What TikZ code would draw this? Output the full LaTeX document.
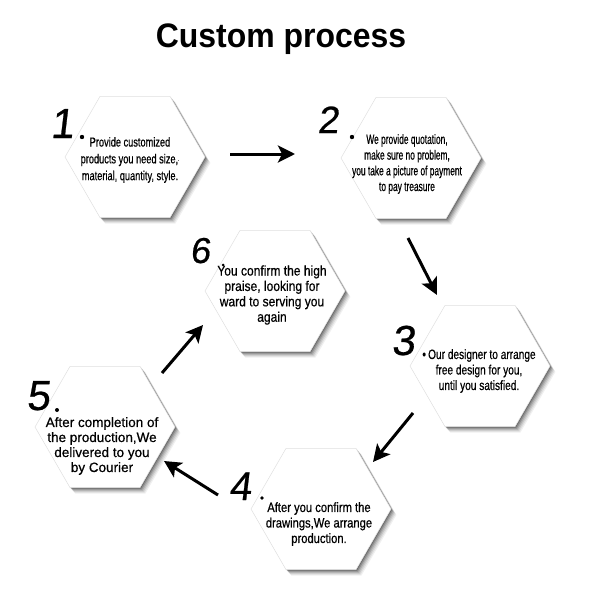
\documentclass[tikz,border=0pt]{standalone}
\usepackage{fontspec}
\setmainfont{Liberation Sans}
\newfontfamily\titlefont[FakeStretch=0.94]{Liberation Sans}
\newfontfamily\handfont[FakeSlant=0.12,FakeBold=0.6]{Liberation Sans}
\newfontfamily\condA[FakeStretch=0.71,FakeBold=0.5]{Liberation Sans}
\newfontfamily\condB[FakeStretch=0.62,FakeBold=0.5]{Liberation Sans}
\newfontfamily\condC[FakeStretch=0.75,FakeBold=0.5]{Liberation Sans}
\newfontfamily\condD[FakeStretch=0.86,FakeBold=0.6]{Liberation Sans}
\newfontfamily\condE[FakeStretch=0.83,FakeBold=0.6]{Liberation Sans}
\newfontfamily\condF[FakeBold=0.6]{Liberation Sans}
\usetikzlibrary{shapes.geometric,arrows.meta}
\tikzset{
  hexshape/.style={regular polygon, regular polygon sides=6,
    minimum size=140pt, inner sep=0pt, draw=none},
  hexbox/.style={hexshape, fill=white, draw=black!12, line width=0.5pt},
  hexnum/.style={anchor=base, inner sep=0pt, font=\handfont},
  numdot/.style={fill=black, draw=none},
  hextext/.style={align=center, inner sep=0pt, text=black},
  flow/.style={line width=3pt, -{Stealth[length=17pt,width=17pt,inset=4pt]}},
}
\newcommand\hexat[3]{%
  \foreach \k/\o in {6/0.06,5/0.08,4/0.1,3/0.13,2/0.17,1/0.22}{%
    \node[hexshape, fill=black, fill opacity=\o] at (#2+\k*0.9, #3+\k) {};}
  \node[hexbox] (#1) at (#2,#3) {};}
\begin{document}
\begin{tikzpicture}[x=1pt,y=-1pt]
\useasboundingbox[fill=white] (0,0) rectangle (598,599);

\node[anchor=base, inner sep=0pt, font=\titlefont\bfseries\fontsize{34}{40}\selectfont] (title) at (281,48) {Custom process};

\hexat{h1}{135}{157}
\hexat{h2}{411}{158}
\hexat{h6}{275}{291}
\hexat{h3}{480}{366}
\hexat{h5}{105}{427}
\hexat{h4}{321}{509}

% numbers
\node[hexnum, font=\handfont\fontsize{42}{42}\selectfont] (n1) at (62,138) {1};
\fill[numdot] (82,137) circle (2.2);
\node[hexnum, font=\handfont\fontsize{38}{38}\selectfont] (n2) at (328,133) {2};
\fill[numdot] (352,137) circle (2.2);
\node[hexnum, font=\handfont\fontsize{36}{36}\selectfont] (n6) at (200,263) {6};
\fill[numdot] (223,265) circle (1.5);
\node[hexnum, font=\handfont\fontsize{42}{42}\selectfont] (n3) at (403,355) {3};
\node[hexnum, font=\handfont\fontsize{42}{42}\selectfont] (n5) at (38,410) {5};
\fill[numdot] (57,410) circle (2);
\node[hexnum, font=\handfont\fontsize{40}{40}\selectfont] (n4) at (240,500) {4};
\fill[numdot] (262,498) circle (1.8);

% texts
\node[hextext, font=\condA\fontsize{13}{16.8}\selectfont] (t1) at (130,160)
  {Provide customized\\products you need size,\raisebox{1.5pt}{\tiny\textperiodcentered}\\material, quantity, style.};
\node[hextext, font=\condB\fontsize{13.5}{15.7}\selectfont] (t2) at (407,164)
  {We provide quotation,\\make sure no problem,\\you take a picture of payment\\to pay treasure};
\node[hextext, font=\condC\fontsize{13.5}{15.5}\selectfont] (t3) at (479,371)
  {\textbullet\,Our designer to arrange\\free design for you,\\until you satisfied.};
\node[hextext, font=\condD\fontsize{14}{15.4}\selectfont] (t6) at (272,295)
  {You confirm the high\\praise, looking for\\ward to serving you\\again};
\node[hextext, font=\condF\fontsize{13.5}{15}\selectfont] (t5) at (102,446)
  {After completion of\\the production,We\\delivered to you\\by Courier};
\node[hextext, font=\condE\fontsize{13.5}{15.5}\selectfont] (t4) at (319,524)
  {After you confirm the\\drawings,We arrange\\production.};

% arrows
\coordinate (a1s) at (230,154); \coordinate (a1e) at (295,154);
\coordinate (a2s) at (408,238); \coordinate (a2e) at (437,295);
\coordinate (a3s) at (413,413); \coordinate (a3e) at (373,462);
\coordinate (a4s) at (218,495); \coordinate (a4e) at (164,461);
\coordinate (a5s) at (162,373); \coordinate (a5e) at (203,325);
\draw[flow] (a1s) -- (a1e);
\draw[flow] (a2s) -- (a2e);
\draw[flow] (a3s) -- (a3e);
\draw[flow] (a4s) -- (a4e);
\draw[flow] (a5s) -- (a5e);
\end{tikzpicture}
\end{document}
